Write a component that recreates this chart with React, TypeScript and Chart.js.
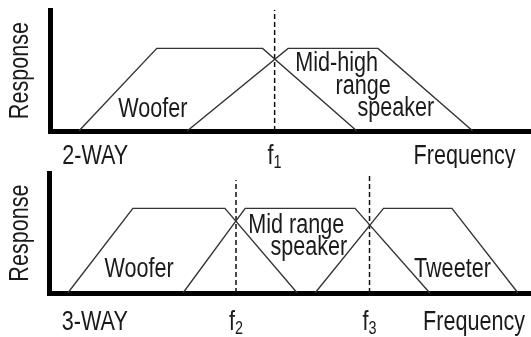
import { useEffect, useRef } from "react";
import { Chart, registerables } from "chart.js";

Chart.register(...registerables);

// ---------- 2-WAY panel data (x: relative frequency 0-100, y: response 0-100) ----------
const twoWayWooferX = [6.0, 22.2, 44.2, 63.8];
const twoWayWooferY = [0, 68.3, 68.3, 0];
const twoWayMidHighX = [28.5, 49.5, 68.2, 87.9];
const twoWayMidHighY = [0, 68.3, 68.3, 0];
const twoWayCrossX = [46.7];
const twoWayCrossTop = [100];
const twoWayCrossSub = ["1"];

const twoWayLabelText = ["Woofer", "Mid-high", "range", "speaker"];
const twoWayLabelX = [21.4, 59.6, 65.1, 71.9];
const twoWayLabelY = [11.8, 49.6, 30.2, 12.4];

const twoWayAxisText = ["2-WAY", "Frequency"];
const twoWayAxisX = [9.4, 86.2];
const twoWayAxisY = -27.5;

// ---------- 3-WAY panel data ----------
const threeWayWooferX = [3.9, 17.4, 36.5, 51.5];
const threeWayWooferY = [0, 70.5, 70.5, 0];
const threeWayMidX = [27.8, 40.7, 63.5, 79.0];
const threeWayMidY = [0, 70.5, 70.5, 0];
const threeWayTweeterX = [55.2, 69.4, 83.6, 97.3];
const threeWayTweeterY = [0, 70.5, 70.5, 0];
const threeWayCrossX = [38.8, 66.5];
const threeWayCrossTop = [94.2, 100];
const threeWayCrossSub = ["2", "3"];

const threeWayLabelText = ["Woofer", "Mid range", "speaker", "Tweeter"];
const threeWayLabelX = [18.7, 51.3, 53.9, 83.7];
const threeWayLabelY = [13.6, 50.0, 32.0, 13.6];

const threeWayAxisText = ["3-WAY", "Frequency"];
const threeWayAxisX = [9.5, 88.2];
const threeWayAxisY = -30.8;

const yAxisTitle = "Response";

const FONT_FAMILY = '"Liberation Sans", Arial, sans-serif';
const MAIN_FONT = `27px ${FONT_FAMILY}`;
const SUB_FONT = `18px ${FONT_FAMILY}`;
const SQUEEZE = 0.8;
const TEXT_COLOR = "#1a1a1a";
const LINE_COLOR = "#333";

type PanelSpec = {
  curvesX: number[][];
  curvesY: number[][];
  crossX: number[];
  crossTop: number[];
  crossSub: string[];
  labelText: string[];
  labelX: number[];
  labelY: number[];
  axisText: string[];
  axisX: number[];
  axisY: number;
  titleX: number;
  titleY: number;
  padding: { left: number; right: number; top: number; bottom: number };
};

function narrowText(ctx: CanvasRenderingContext2D, text: string, x: number, y: number, rotate = 0) {
  ctx.save();
  ctx.translate(x, y);
  if (rotate) ctx.rotate(rotate);
  ctx.scale(SQUEEZE, 1);
  ctx.fillText(text, 0, 0);
  ctx.restore();
}

function makeTextPlugin(spec: PanelSpec) {
  return {
    id: "panelText",
    afterDraw(chart: any) {
      const ctx: CanvasRenderingContext2D = chart.ctx;
      const xs = chart.scales.x;
      const ys = chart.scales.y;
      ctx.save();
      ctx.fillStyle = TEXT_COLOR;
      ctx.font = MAIN_FONT;
      ctx.textAlign = "center";
      ctx.textBaseline = "alphabetic";
      spec.labelText.forEach((t, i) => {
        narrowText(ctx, t, xs.getPixelForValue(spec.labelX[i]), ys.getPixelForValue(spec.labelY[i]));
      });
      spec.axisText.forEach((t, i) => {
        narrowText(ctx, t, xs.getPixelForValue(spec.axisX[i]), ys.getPixelForValue(spec.axisY));
      });
      // crossover labels: f with subscript
      const by = ys.getPixelForValue(spec.axisY);
      spec.crossX.forEach((cx, i) => {
        ctx.font = MAIN_FONT;
        const wf = ctx.measureText("f").width * SQUEEZE;
        ctx.font = SUB_FONT;
        const ws = ctx.measureText(spec.crossSub[i]).width * SQUEEZE;
        const start = xs.getPixelForValue(cx) - (wf + ws) / 2;
        ctx.textAlign = "left";
        ctx.font = MAIN_FONT;
        narrowText(ctx, "f", start, by);
        ctx.font = SUB_FONT;
        narrowText(ctx, spec.crossSub[i], start + wf, by + 4);
      });
      // rotated y-axis title
      ctx.font = MAIN_FONT;
      ctx.textAlign = "center";
      narrowText(ctx, yAxisTitle, xs.getPixelForValue(spec.titleX), ys.getPixelForValue(spec.titleY), -Math.PI / 2);
      ctx.restore();
    },
  };
}

function buildChart(canvas: HTMLCanvasElement, spec: PanelSpec) {
  const datasets: any[] = spec.curvesX.map((xs, k) => ({
    data: xs.map((x, i) => ({ x, y: spec.curvesY[k][i] })),
    borderColor: LINE_COLOR,
    borderWidth: 1.4,
    pointRadius: 0,
    tension: 0,
    fill: false,
  }));
  spec.crossX.forEach((cx, i) => {
    datasets.push({
      data: [
        { x: cx, y: 0 },
        { x: cx, y: spec.crossTop[i] },
      ],
      borderColor: "#111",
      borderWidth: 1.5,
      borderDash: [5, 3],
      pointRadius: 0,
      fill: false,
    });
  });
  const axis = {
    type: "linear" as const,
    min: 0,
    max: 100,
    ticks: { display: false },
    grid: { display: false, drawTicks: false },
    border: { display: true, width: 5, color: "#000" },
  };
  return new Chart(canvas, {
    type: "line",
    data: { datasets },
    options: {
      responsive: false,
      animation: false,
      events: [],
      layout: { padding: spec.padding },
      plugins: { legend: { display: false }, tooltip: { enabled: false }, title: { display: false } },
      scales: { x: { ...axis, position: "bottom" }, y: { ...axis, position: "left" } },
    },
    plugins: [makeTextPlugin(spec)],
  });
}

const twoWaySpec: PanelSpec = {
  curvesX: [twoWayWooferX, twoWayMidHighX],
  curvesY: [twoWayWooferY, twoWayMidHighY],
  crossX: twoWayCrossX,
  crossTop: twoWayCrossTop,
  crossSub: twoWayCrossSub,
  labelText: twoWayLabelText,
  labelX: twoWayLabelX,
  labelY: twoWayLabelY,
  axisText: twoWayAxisText,
  axisX: twoWayAxisX,
  axisY: twoWayAxisY,
  titleX: -4.6,
  titleY: 50,
  padding: { left: 50, right: 0, top: 10, bottom: 37 },
};

const threeWaySpec: PanelSpec = {
  curvesX: [threeWayWooferX, threeWayMidX, threeWayTweeterX],
  curvesY: [threeWayWooferY, threeWayMidY, threeWayTweeterY],
  crossX: threeWayCrossX,
  crossTop: threeWayCrossTop,
  crossSub: threeWayCrossSub,
  labelText: threeWayLabelText,
  labelX: threeWayLabelX,
  labelY: threeWayLabelY,
  axisText: threeWayAxisText,
  axisX: threeWayAxisX,
  axisY: threeWayAxisY,
  titleX: -4.4,
  titleY: 50,
  padding: { left: 49, right: 0, top: 5, bottom: 44 },
};

export default function App() {
  const topRef = useRef<HTMLCanvasElement | null>(null);
  const bottomRef = useRef<HTMLCanvasElement | null>(null);

  useEffect(() => {
    if (!topRef.current || !bottomRef.current) return;
    const c1 = buildChart(topRef.current, twoWaySpec);
    const c2 = buildChart(bottomRef.current, threeWaySpec);
    return () => {
      c1.destroy();
      c2.destroy();
    };
  }, []);

  return (
    <div style={{ position: "absolute", left: 0, top: 0, width: 531, height: 337, background: "#fff" }}>
      <canvas ref={topRef} width={531} height={168} style={{ display: "block", width: 531, height: 168 }} />
      <canvas ref={bottomRef} width={531} height={169} style={{ display: "block", width: 531, height: 169 }} />
    </div>
  );
}
